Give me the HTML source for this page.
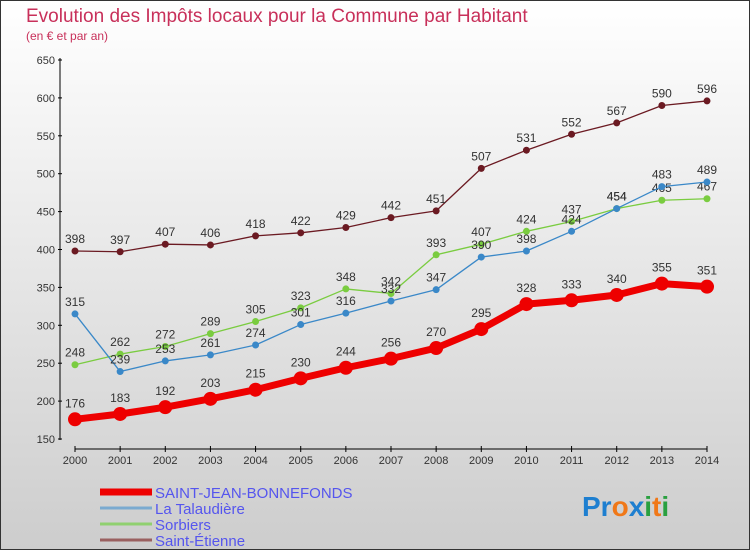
<!DOCTYPE html>
<html><head><meta charset="utf-8"><style>
body{margin:0;width:750px;height:550px;overflow:hidden}
svg{display:block;font-family:"Liberation Sans",sans-serif}
</style></head><body>
<svg id="c" width="750" height="550">
<defs><linearGradient id="bg" x1="0" y1="0" x2="0" y2="1"><stop offset="0" stop-color="#ffffff"/><stop offset="1" stop-color="#cdcdcd"/></linearGradient></defs>
<rect x="0.5" y="0.5" width="749" height="549" fill="url(#bg)" stroke="#333"/>
<text x="26" y="22" font-size="19" fill="#c8305a">Evolution des Impôts locaux pour la Commune par Habitant</text>
<text x="26" y="40" font-size="12" fill="#c8305a">(en € et par an)</text>
<g id="axes"></g><g id="series"></g><g id="legend"></g>
<text x="582" y="516" font-size="28" font-weight="bold"><tspan fill="#1e7fd0">Pr</tspan><tspan fill="#f07818">o</tspan><tspan fill="#1e7fd0">x</tspan><tspan fill="#2aa040">i</tspan><tspan fill="#f07818">t</tspan><tspan fill="#2aa040">i</tspan></text>
</svg>
<script>
const years=[2000,2001,2002,2003,2004,2005,2006,2007,2008,2009,2010,2011,2012,2013,2014];
const yTicks=[150,200,250,300,350,400,450,500,550,600,650];
const sjb=[176,183,192,203,215,230,244,256,270,295,328,333,340,355,351];
const tala=[315,239,253,261,274,301,316,332,347,390,398,424,454,483,489];
const sorb=[248,262,272,289,305,323,348,342,393,407,424,437,454,465,467];
const ste=[398,397,407,406,418,422,429,442,451,507,531,552,567,590,596];
const NS='http://www.w3.org/2000/svg';
const X=i=>75+i*(632/14);
const Y=v=>439-(v-150)*(379/500);
function mk(t,a,p){const e=document.createElementNS(NS,t);for(const k in a)e.setAttribute(k,a[k]);p.appendChild(e);return e;}
const ax=document.getElementById('axes');
let yl=mk('line',{x1:60,y1:58,x2:60,y2:440,stroke:'#000'},ax);


let xl=mk('line',{x1:75,y1:449,x2:707,y2:449,stroke:'#000'},ax);


yTicks.forEach(v=>{
  mk('line',{x1:58,x2:62,y1:Y(v),y2:Y(v),stroke:'#000'},ax);
  const t=mk('text',{x:55,y:Y(v)+4,'text-anchor':'end','font-size':11,fill:'#333'},ax);t.textContent=v;
  
  
});
years.forEach((y,i)=>{
  mk('line',{x1:X(i),x2:X(i),y1:446,y2:452,stroke:'#000'},ax);
  const t=mk('text',{x:X(i),y:464,'text-anchor':'middle','font-size':11,fill:'#333'},ax);t.textContent=y;
  
  
});
const sg=document.getElementById('series');
function draw(d,col,w,r,name){
  const g=mk('g',{},sg);
  
  
  mk('polyline',{points:d.map((v,i)=>X(i)+','+Y(v)).join(' '),fill:'none',stroke:col,'stroke-width':w,'stroke-linejoin':'round'},g);
  d.forEach((v,i)=>{
    const c=mk('circle',{cx:X(i),cy:Y(v),r:r,fill:col},g);
    
    
    const t=mk('text',{x:X(i),y:Y(v)-8-(r>4?4:0),'text-anchor':'middle','font-size':12,fill:'#333'},g);t.textContent=v;
    
    
  });
}
draw(ste,'#6b1a22',1.3,3.5,'series-saint-etienne');
draw(sorb,'#7acc40',1.3,3.5,'series-sorbiers');
draw(tala,'#3a88c8',1.3,3.5,'series-la-talaudiere');
draw(sjb,'#ee0000',7,7,'series-saint-jean-bonnefonds');
const lg=document.getElementById('legend');
const names=['SAINT-JEAN-BONNEFONDS','La Talaudière','Sorbiers','Saint-Étienne'];
const cols=['#ee0000','#7aaad0','#90d070','#9a6060'];
const ws=[7,3,3,3];
names.forEach((n,i)=>{
  const yy=492+i*16;
  const l=mk('line',{x1:100,x2:152,y1:yy,y2:yy,stroke:cols[i],'stroke-width':ws[i]},lg);
  
  
  const t=mk('text',{x:155,y:yy+6,'font-size':15,fill:'#5555ee'},lg);t.textContent=n;
  
  
});
</script>
</body></html>
